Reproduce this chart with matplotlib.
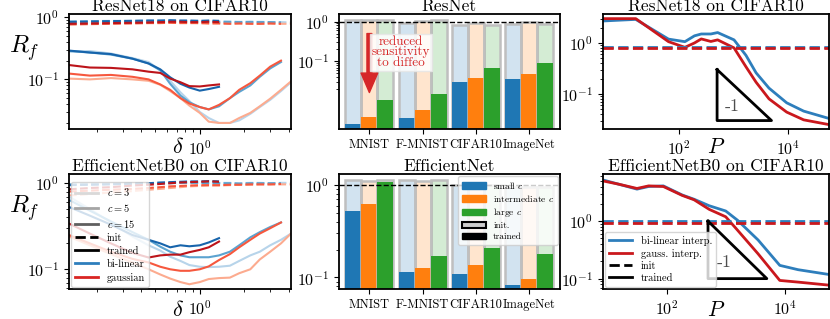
import numpy as np
import matplotlib
matplotlib.use("Agg")
import matplotlib.pyplot as plt
from matplotlib.lines import Line2D
from matplotlib.patches import Patch
from matplotlib.ticker import NullFormatter, NullLocator

plt.rcParams['font.family'] = 'serif'
plt.rcParams['font.serif'] = ['cmr10', 'DejaVu Serif']
plt.rcParams['mathtext.fontset'] = 'cm'
plt.rcParams['axes.formatter.use_mathtext'] = True
plt.rcParams['axes.unicode_minus'] = False
plt.rcParams['axes.linewidth'] = 1.3

# ---------------- data: R_f vs delta ----------------
delta = [0.13, 0.18, 0.25, 0.35, 0.45, 0.54, 0.63, 0.74, 0.85, 1.0,
         1.15, 1.35, 1.6, 1.85, 2.2, 2.55, 3.0, 3.55, 4.15]

# ResNet18 trained (c=15 stops at 1.35, c=5 at 3.55)
res_bl15 = [0.29, 0.27, 0.255, 0.215, 0.18, 0.145, 0.108, 0.085, 0.074, 0.066, 0.07, 0.076]
res_ga15 = [0.17, 0.155, 0.153, 0.145, 0.133, 0.127, 0.103, 0.09, 0.078, 0.077, 0.08, 0.083]
res_bl5 = [0.285, 0.27, 0.25, 0.215, 0.18, 0.14, 0.085, 0.055, 0.043, 0.036, 0.033, 0.037,
           0.05, 0.063, 0.08, 0.11, 0.15, 0.19]
res_ga5 = [0.124, 0.115, 0.118, 0.11, 0.1, 0.083, 0.068, 0.05, 0.041, 0.036, 0.033, 0.039,
           0.05, 0.068, 0.087, 0.115, 0.16, 0.2]
res_bl3 = [0.28, 0.285, 0.26, 0.22, 0.19, 0.14, 0.095, 0.062, 0.045, 0.03, 0.024, 0.02,
           0.02, 0.022, 0.028, 0.036, 0.047, 0.065, 0.09]
res_ga3 = [0.103, 0.1, 0.105, 0.1, 0.095, 0.082, 0.065, 0.05, 0.038, 0.029, 0.021, 0.02,
           0.02, 0.024, 0.029, 0.037, 0.049, 0.068, 0.093]
# ResNet18 init
res_bl15_i = [0.84, 0.85, 0.86, 0.87, 0.88, 0.88, 0.89, 0.88, 0.88, 0.87, 0.88, 0.87]
res_ga15_i = [0.78, 0.79, 0.8, 0.81, 0.82, 0.83, 0.84, 0.84, 0.83, 0.83, 0.84, 0.83]
res_bl5_i = [0.83, 0.84, 0.85, 0.85, 0.86, 0.86, 0.87, 0.86, 0.86, 0.85, 0.85, 0.84,
             0.84, 0.83, 0.84, 0.83, 0.83, 0.82]
res_ga5_i = [0.76, 0.77, 0.78, 0.79, 0.8, 0.8, 0.81, 0.8, 0.8, 0.8, 0.79, 0.79,
             0.78, 0.79, 0.78, 0.78, 0.79, 0.78]
res_bl3_i = [0.86, 0.86, 0.87, 0.87, 0.88, 0.88, 0.87, 0.87, 0.86, 0.86, 0.85, 0.85,
             0.84, 0.84, 0.83, 0.84, 0.83, 0.83, 0.82]
res_ga3_i = [0.8, 0.8, 0.81, 0.81, 0.82, 0.82, 0.82, 0.81, 0.81, 0.8, 0.8, 0.8,
             0.79, 0.79, 0.79, 0.78, 0.79, 0.78, 0.78]

# EfficientNetB0 trained
eff_bl15 = [0.53, 0.42, 0.33, 0.25, 0.22, 0.2, 0.18, 0.19, 0.185, 0.19, 0.205, 0.23]
eff_ga15 = [0.34, 0.26, 0.2, 0.155, 0.137, 0.145, 0.148, 0.148, 0.158, 0.168, 0.18, 0.21]
eff_bl5 = [0.64, 0.48, 0.36, 0.27, 0.22, 0.183, 0.16, 0.145, 0.138, 0.138, 0.138, 0.145,
           0.16, 0.19, 0.235, 0.27, 0.31, 0.35]
eff_ga5 = [0.25, 0.2, 0.16, 0.132, 0.12, 0.107, 0.1, 0.096, 0.096, 0.1, 0.108, 0.128,
           0.15, 0.18, 0.22, 0.26, 0.3, 0.35]
eff_bl3 = [0.7, 0.5, 0.35, 0.24, 0.19, 0.165, 0.14, 0.125, 0.112, 0.107, 0.106, 0.107,
           0.11, 0.125, 0.145, 0.16, 0.19, 0.22, 0.26]
eff_ga3 = [0.24, 0.19, 0.15, 0.12, 0.1, 0.087, 0.078, 0.071, 0.067, 0.071, 0.077, 0.079,
           0.08, 0.09, 0.1, 0.13, 0.16, 0.2, 0.26]
# EfficientNetB0 init
eff_bl15_i = [0.95, 0.96, 0.97, 0.99, 1.0, 1.02, 1.03, 1.04, 1.05, 1.05, 1.06, 1.05]
eff_ga15_i = [0.85, 0.88, 0.9, 0.94, 0.96, 0.98, 1.0, 1.02, 1.03, 1.04, 1.05, 1.04]
eff_bl5_i = [0.97, 0.97, 0.98, 0.98, 0.99, 1.0, 1.0, 1.01, 1.01, 1.01, 1.0, 1.0,
             1.0, 0.99, 1.0, 1.0, 1.0, 1.0]
eff_ga5_i = [0.8, 0.82, 0.84, 0.86, 0.88, 0.9, 0.92, 0.93, 0.94, 0.95, 0.95, 0.95,
             0.96, 0.96, 0.97, 0.97, 0.97, 0.98]
eff_bl3_i = [0.97, 0.98, 0.98, 0.99, 1.0, 1.0, 1.01, 1.01, 1.02, 1.02, 1.01, 1.01,
             1.01, 1.0, 1.01, 1.01, 1.0, 1.01, 1.01]
eff_ga3_i = [0.72, 0.75, 0.78, 0.81, 0.84, 0.86, 0.88, 0.9, 0.92, 0.93, 0.94, 0.94,
             0.95, 0.96, 0.96, 0.97, 0.97, 0.97, 0.97]

# ---------------- data: bars ----------------
datasets = ['MNIST', 'F-MNIST', 'CIFAR10', 'ImageNet']
res_trained = {'small': [0.0026, 0.0037, 0.031, 0.037],
               'inter': [0.004, 0.0061, 0.038, 0.049],
               'large': [0.0108, 0.015, 0.068, 0.091]}
res_init = {'small': [1.12, 0.91, 0.82, 0.87],
            'inter': [1.12, 1.06, 0.91, 1.0],
            'large': [1.12, 1.1, 0.82, 0.87]}
eff_trained = {'small': [0.53, 0.114, 0.109, 0.082],
               'inter': [0.63, 0.126, 0.138, 0.096],
               'large': [1.09, 0.17, 0.206, 0.178]}
eff_init = {'small': [1.13, 1.13, 1.0, 0.95],
            'inter': [1.1, 1.1, 1.0, 0.95],
            'large': [1.13, 1.13, 1.0, 0.95]}

# ---------------- data: R_f vs P ----------------
P_res = [4, 16, 64, 128, 192, 256, 384, 512, 1024, 1700, 2600, 4500, 9500, 19500, 57000]
res_P_bl = [2.7, 2.9, 1.19, 1.06, 1.38, 1.5, 1.5, 1.6, 1.15, 0.57, 0.26, 0.13, 0.067, 0.046, 0.033]
res_P_ga = [3.0, 3.0, 1.06, 0.82, 1.0, 1.2, 1.07, 1.15, 0.8, 0.34, 0.17, 0.08, 0.044, 0.031, 0.025]
res_P_init = [0.845, 0.81]

P_eff = [8.2, 15, 31, 49, 87, 182, 290, 525, 1000, 1580, 3550, 8300, 17000, 57000]
eff_P_bl = [5.2, 4.4, 3.6, 4.0, 4.1, 2.85, 2.4, 1.85, 1.5, 1.04, 0.47, 0.17, 0.143, 0.118]
eff_P_ga = [5.0, 4.4, 3.7, 4.1, 4.0, 2.8, 2.35, 1.6, 1.19, 0.7, 0.27, 0.093, 0.087, 0.077]
eff_P_init = [1.0, 0.91]

tri_P = [500, 500, 5000]
res_tri = [0.3, 0.03, 0.03]
eff_tri = [1.0, 0.1, 0.1]

# ---------------- figure ----------------
fig = plt.figure(figsize=(8.3, 3.19), dpi=100)
W, H = 830.0, 319.0


def box(x0, x1, y0, y1):
    return [x0 / W, 1 - y1 / H, (x1 - x0) / W, (y1 - y0) / H]


ax_l1 = fig.add_axes(box(69, 291, 14, 129))
ax_m1 = fig.add_axes(box(338.5, 560, 14, 129))
ax_r1 = fig.add_axes(box(603, 829, 14, 129))
ax_l2 = fig.add_axes(box(69, 291, 174, 289))
ax_m2 = fig.add_axes(box(338.5, 560, 174, 289))
ax_r2 = fig.add_axes(box(603, 829, 174, 289))

blues = plt.cm.Blues
reds = plt.cm.Reds
shade = {3: 0.3, 5: 0.55, 15: 0.8}
lw = 1.5
title_fs = 12.5


def delta_panel(ax, curves, title, ylim, lab_y):
    for c, bl, ga, bli, gai in curves:
        ax.plot(delta[:len(bli)], bli, '--', color=blues(shade[c]), lw=lw)
        ax.plot(delta[:len(gai)], gai, '--', color=reds(shade[c]), lw=lw)
        ax.plot(delta[:len(bl)], bl, '-', color=blues(shade[c]), lw=lw)
        ax.plot(delta[:len(ga)], ga, '-', color=reds(shade[c]), lw=lw)
    ax.set_xscale('log')
    ax.set_yscale('log')
    ax.set_xlim(0.13, 4.15)
    ax.set_ylim(*ylim)
    ax.xaxis.set_minor_formatter(NullFormatter())
    ax.yaxis.set_minor_formatter(NullFormatter())
    ax.set_title(title, fontsize=title_fs, pad=2)
    ax.set_xlabel(r'$\delta$', fontsize=16, va='center')
    ax.xaxis.set_label_coords(0.49, lab_y)
    ax.set_ylabel(r'$R_f$', fontsize=18, rotation=0)
    ax.yaxis.set_label_coords(-0.2, 0.57)
    ax.tick_params(labelsize=11.5)


delta_panel(ax_l1, [(3, res_bl3, res_ga3, res_bl3_i, res_ga3_i),
                    (5, res_bl5, res_ga5, res_bl5_i, res_ga5_i),
                    (15, res_bl15, res_ga15, res_bl15_i, res_ga15_i)],
            'ResNet18 on CIFAR10', (0.016, 1.12), -0.16)
delta_panel(ax_l2, [(3, eff_bl3, eff_ga3, eff_bl3_i, eff_ga3_i),
                    (5, eff_bl5, eff_ga5, eff_bl5_i, eff_ga5_i),
                    (15, eff_bl15, eff_ga15, eff_bl15_i, eff_ga15_i)],
            'EfficientNetB0 on CIFAR10', (0.059, 1.28), -0.185)

greys = plt.cm.Greys
leg_handles = [Line2D([], [], color=greys(0.25), lw=2, label='$c = 3$'),
               Line2D([], [], color=greys(0.45), lw=2, label='$c = 5$'),
               Line2D([], [], color=greys(0.7), lw=2, label='$c = 15$'),
               Line2D([], [], color='k', ls='--', lw=2, label='init'),
               Line2D([], [], color='k', lw=2, label='trained'),
               Line2D([], [], color=blues(0.7), lw=2, label='bi-linear'),
               Line2D([], [], color=reds(0.7), lw=2, label='gaussian')]
ax_l2.legend(handles=leg_handles, loc='lower left', fontsize=7.5, handlelength=2.2,
             labelspacing=0.35, borderaxespad=0.2, framealpha=0.8)

# bars
bar_colors = {'small': 'tab:blue', 'inter': 'tab:orange', 'large': 'tab:green'}
offsets = {'small': -0.3, 'inter': 0.0, 'large': 0.3}
xg = np.arange(len(datasets))


def bar_panel(ax, trained, init, title, ylim):
    for k in ['small', 'inter', 'large']:
        ax.bar(xg + offsets[k], init[k], width=0.3, color=bar_colors[k], alpha=0.2,
               edgecolor='none')
        ax.bar(xg + offsets[k], init[k], width=0.3, fill=False, edgecolor='0.75', lw=1.8)
        ax.bar(xg + offsets[k], trained[k], width=0.3, color=bar_colors[k])
    ax.axhline(1.0, color='k', ls='--', lw=1)
    ax.set_yscale('log')
    ax.set_ylim(*ylim)
    ax.set_xlim(-0.58, 3.58)
    ax.set_xticks(xg)
    ax.set_xticklabels(datasets, fontsize=9)
    ax.yaxis.set_minor_formatter(NullFormatter())
    ax.tick_params(axis='y', labelsize=11.5)
    ax.set_title(title, fontsize=title_fs, pad=2)


bar_panel(ax_m1, res_trained, res_init, 'ResNet', (0.002, 1.55))
ax_m1.set_yticks([0.1, 1.0])
ax_m1.set_yticks([0.02, 0.03, 0.04, 0.05, 0.06, 0.07, 0.08, 0.09,
                  0.2, 0.3, 0.4, 0.5, 0.6, 0.7, 0.8, 0.9], minor=True)
ax_m1.yaxis.set_minor_formatter(NullFormatter())
ax_m1.annotate('', xy=(0, 0.0165), xytext=(0, 0.5),
               arrowprops=dict(color='#d62728', width=3.5, headwidth=12, headlength=14))
ax_m1.text(0.6, 0.17, 'reduced\nsensitivity\nto diffeo', color='#d62728', fontsize=9.5,
           ha='center', va='center', linespacing=0.85,
           bbox=dict(facecolor='white', alpha=0.85, edgecolor='0.9', boxstyle='square,pad=0.12'))

bar_panel(ax_m2, eff_trained, eff_init, 'EfficientNet', (0.075, 1.32))
bar_handles = [Patch(color='tab:blue', label='small $c$'),
               Patch(color='tab:orange', label='intermediate $c$'),
               Patch(color='tab:green', label='large $c$'),
               Patch(facecolor='0.8', edgecolor='k', lw=1.5, label='init.'),
               Patch(color='k', label='trained')]
ax_m2.legend(handles=bar_handles, loc='upper right', fontsize=6.8, handlelength=2.5,
             labelspacing=0.25, borderaxespad=0.2, framealpha=0.8)


def p_panel(ax, P, bl, ga, init, tri, title, xlim, ylim, text_y, lab_y):
    ax.plot(P, bl, color=blues(0.7), lw=2)
    ax.plot(P, ga, color=reds(0.75), lw=2)
    ax.axhline(init[0], color=blues(0.7), ls='--', lw=2)
    ax.axhline(init[1], color=reds(0.75), ls='--', lw=2)
    ax.plot(tri_P + tri_P[:1], tri + tri[:1], color='k', lw=2)
    ax.text(940, text_y, '-1', fontsize=13, color='0.3', ha='center', va='center')
    ax.set_xscale('log')
    ax.set_yscale('log')
    ax.set_xlim(*xlim)
    ax.set_ylim(*ylim)
    ax.set_xticks([1e2, 1e4])
    ax.xaxis.set_minor_locator(NullLocator())
    ax.yaxis.set_minor_formatter(NullFormatter())
    ax.tick_params(labelsize=11.5)
    ax.set_title(title, fontsize=title_fs, pad=2)
    ax.set_xlabel('$P$', fontsize=15.5, va='center')
    ax.xaxis.set_label_coords(0.5, lab_y)


p_panel(ax_r1, P_res, res_P_bl, res_P_ga, res_P_init, res_tri, 'ResNet18 on CIFAR10',
        (4, 57000), (0.0205, 3.7), 0.058, -0.155)
p_panel(ax_r2, P_eff, eff_P_bl, eff_P_ga, eff_P_init, eff_tri, 'EfficientNetB0 on CIFAR10',
        (8.2, 57000), (0.066, 6.6), 0.195, -0.185)
p_handles = [Line2D([], [], color=blues(0.7), lw=2, label='bi-linear interp.'),
             Line2D([], [], color=reds(0.75), lw=2, label='gauss. interp.'),
             Line2D([], [], color='k', ls='--', lw=2, label='init'),
             Line2D([], [], color='k', lw=2, label='trained')]
ax_r2.legend(handles=p_handles, loc='lower left', fontsize=7.5, handlelength=2.2,
             labelspacing=0.25, borderaxespad=0.2, framealpha=0.8)

fig.savefig('out.png', dpi=100)
